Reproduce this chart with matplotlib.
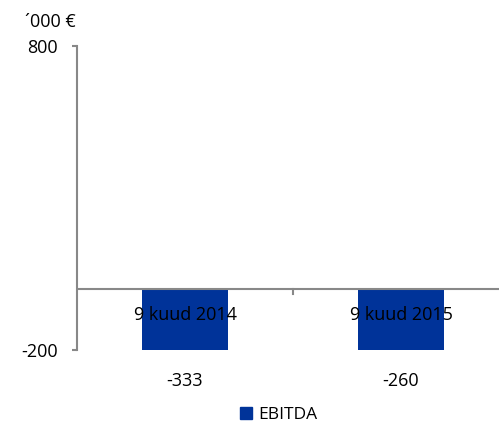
import matplotlib
matplotlib.use("Agg")
from matplotlib import pyplot as plt

categories = ["9 kuud 2014", "9 kuud 2015"]
ebitda = [-333, -260]
y_ticks = [800, -200]

W, H, DPI = 499, 423, 100
BAR_COLOR = "#003399"
AXIS_COLOR = "#888888"
FS = 13

plt.rcParams["font.family"] = ["Open Sans", "DejaVu Sans"]

fig = plt.figure(figsize=(W / DPI, H / DPI), dpi=DPI)
# plot area in pixels: left 77, top 46, bottom 350, right runs off the image
left, top, bottom = 77, 46, 350
cat_w = 216
ax = fig.add_axes([left / W, 1 - bottom / H, 1 - left / W, (bottom - top) / H])
ax.set_xlim(-0.5, (W - left) / cat_w - 0.5)
ax.set_ylim(-200, 800)

ax.bar(range(len(categories)), ebitda, width=0.4, color=BAR_COLOR, zorder=2)

for s in ["top", "right", "bottom"]:
    ax.spines[s].set_visible(False)
ax.spines["left"].set_color(AXIS_COLOR)
ax.spines["left"].set_linewidth(1.5)
ax.axhline(0, color=AXIS_COLOR, linewidth=1.5, zorder=3)

px = 72 / DPI
ax.set_yticks(y_ticks)
ax.set_yticklabels([str(v) for v in y_ticks], fontsize=FS)
ax.tick_params(axis="y", length=5 * px, width=1.5, color=AXIS_COLOR, pad=14 * px)
ax.set_xticks([])

# category separator tick on the zero line
ax.plot([0.5, 0.5], [0, -16], color=AXIS_COLOR, linewidth=1.5, clip_on=False, zorder=3)

for i, (c, v) in enumerate(zip(categories, ebitda)):
    ax.annotate(c, xy=(i, 0), xytext=(0, -26 * px), textcoords="offset points",
                ha="center", va="center", fontsize=FS, zorder=4)
    ax.annotate(str(v), xy=(i, -200), xytext=(0, -31 * px), textcoords="offset points",
                ha="center", va="center", fontsize=FS, annotation_clip=False)

fig.text(25 / W, 1 - 22 / H, "´000 €", ha="left", va="center", fontsize=FS)

fig.legend(handles=[plt.Rectangle((0, 0), 1, 1, color=BAR_COLOR)], labels=["EBITDA"],
           loc="center", bbox_to_anchor=(279 / W, 1 - 415 / H), frameon=False,
           fontsize=12.5, handlelength=0.65, handleheight=0.65, handletextpad=0.4)

fig.savefig("out.png", dpi=DPI)
